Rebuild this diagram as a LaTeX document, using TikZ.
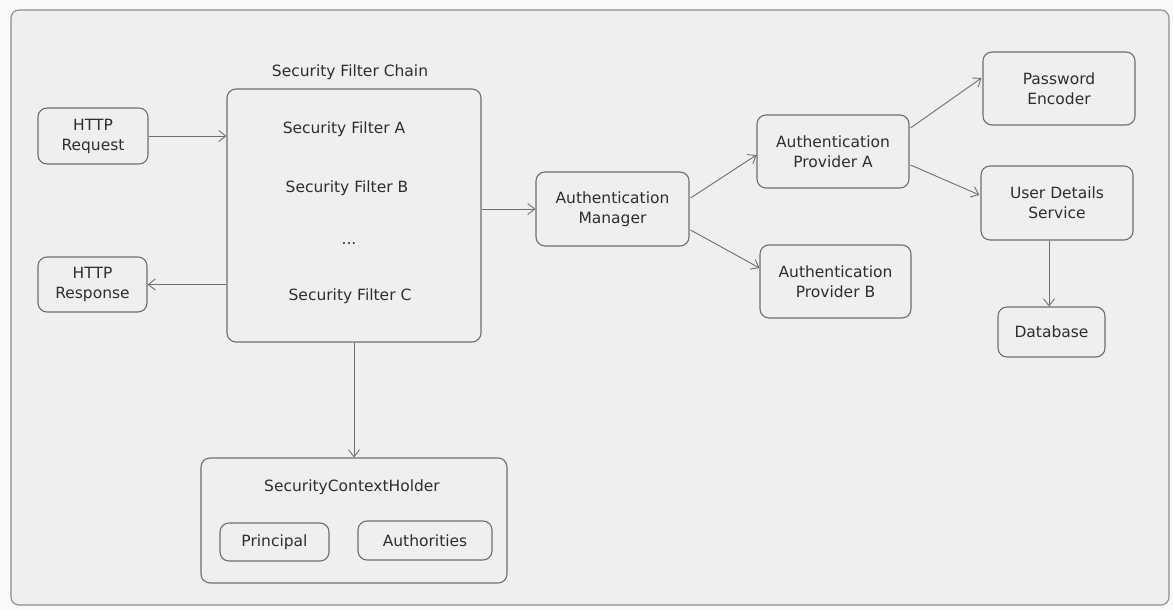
\documentclass[tikz,border=0pt]{standalone}
\usepackage{fontspec}
\setmainfont{DejaVu Sans}
\usetikzlibrary{arrows.meta}
\definecolor{paper}{HTML}{EFEFEF}
\definecolor{edge}{HTML}{6F6F6F}
\definecolor{ink}{HTML}{2E2E2E}
\tikzset{
  box/.style={draw=edge, line width=1.1pt, rounded corners=9pt, fill=paper,
    text=ink, align=center, inner sep=0pt, font=\fontsize{15.5}{20}\selectfont},
  label/.style={text=ink, font=\fontsize{15.5}{20}\selectfont, inner sep=0pt},
  conn/.style={draw=edge, line width=0.9pt, -{Straight Barb[length=7pt,width=11pt]}},
}
\begin{document}
\begin{tikzpicture}[x=1pt,y=-1pt]
\useasboundingbox (0,0) rectangle (1173,610);
\fill[white!60!paper] (0,0) rectangle (1173,610);
% outer frame
\draw[draw=edge!80, line width=1.1pt, fill=paper, rounded corners=8pt] (11,10) rectangle (1169,605);

% client side
\node[box, minimum width=110pt, minimum height=56pt] (req) at (93,136) {HTTP\\Request};
\node[box, minimum width=109pt, minimum height=55pt] (resp) at (92.5,284.5) {HTTP\\Response};

% filter chain
\node[box, minimum width=254pt, minimum height=253pt] (chain) at (354,215.5) {};
\node[label] (chaintitle) at (350,72) {Security Filter Chain};
\node[label] (fa) at (344,129) {Security Filter A};
\node[label] (fb) at (347,188) {Security Filter B};
\node[label] (fdots) at (349,244) {...};
\node[label] (fc) at (350,296) {Security Filter C};

% authentication
\node[box, minimum width=153pt, minimum height=74pt] (mgr) at (612.5,209) {Authentication\\Manager};
\node[box, minimum width=152pt, minimum height=73pt] (pa) at (833,151.5) {Authentication\\Provider A};
\node[box, minimum width=151pt, minimum height=73pt] (pb) at (835.5,281.5) {Authentication\\Provider B};
\node[box, minimum width=152pt, minimum height=73pt] (pwd) at (1059,88.5) {Password\\Encoder};
\node[box, minimum width=152pt, minimum height=74pt] (uds) at (1057,203) {User Details\\Service};
\node[box, minimum width=107pt, minimum height=50pt] (db) at (1051.5,332) {Database};

% security context
\node[box, minimum width=306pt, minimum height=125pt] (holder) at (354,520.5) {};
\node[label] (holdertitle) at (352,487) {SecurityContextHolder};
\node[box, minimum width=109pt, minimum height=38pt] (principal) at (274.5,542) {Principal};
\node[box, minimum width=134pt, minimum height=39pt] (auths) at (425,540.5) {Authorities};

% connectors
\draw[conn] (req.east) -- (req.east -| chain.west);
\draw[conn] (chain.west |- resp.east) -- (resp.east);
\draw[conn] (chain.east |- mgr.west) -- (mgr.west);
\draw[conn] (chain.south -| holder.north) -- (holder.north);
\draw[conn] ([shift={(1,-11)}]mgr.east) -- ([shift={(0,3.5)}]pa.west);
\draw[conn] ([shift={(1,21)}]mgr.east) -- ([shift={(0,-13.5)}]pb.west);
\draw[conn] ([shift={(1,-23.5)}]pa.east) -- ([shift={(-1,-10.5)}]pwd.west);
\draw[conn] ([shift={(1,13.5)}]pa.east) -- ([shift={(-1,-8)}]uds.west);
\draw[conn] ([xshift=-8pt]uds.south) -- ([xshift=-8pt]uds.south |- db.north);
\end{tikzpicture}
\end{document}
